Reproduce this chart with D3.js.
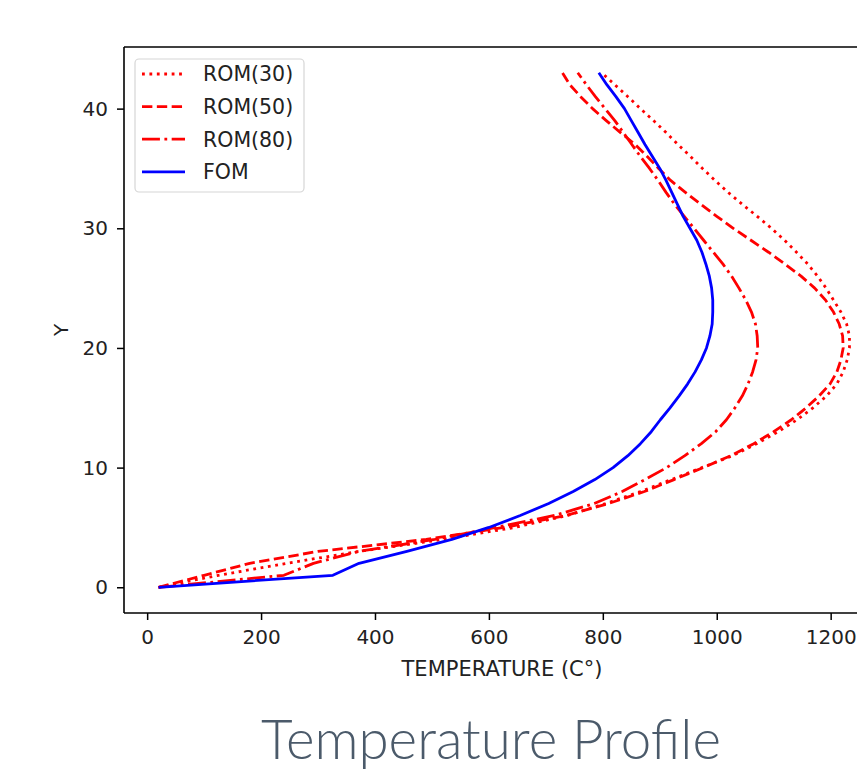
<!DOCTYPE html>
<html>
<head>
<meta charset="utf-8">
<script src="https://cdn.jsdelivr.net/npm/d3@7"></script>
<style>
  html, body { margin: 0; padding: 0; background: #ffffff; }
  svg { display: block; }
</style>
</head>
<body>
<svg id="chart" width="857" height="773"></svg>
<script>
// ---------------- DATA ----------------
const yLevels = [0,1,2,3,4,5,6,7,8,9,10,11,12,13,14,15,16,17,18,19,20,21,22,23,24,25,26,27,28,29,30,31,32,33,34,35,36,37,38,39,40,41,42,43];

const rom30 = [20,125,245,372,520,645,738,805,866,920,974,1028,1070,1108,1141,1169,1193,1211,1222,1229,1233,1233,1228,1218,1205,1192,1177,1160,1140,1119,1096,1071,1045,1020,997,975,954,932,911,889,866,844,821,798];
const rom50 = [20,100,180,300,490,627,735,810,873,925,976,1025,1065,1100,1131,1157,1180,1199,1211,1218,1222,1221,1215,1205,1191,1172,1148,1120,1091,1060,1029,1000,972,945,919,898,878,857,831,806,782,761,742,729];
const rom80 = [20,240,292,372,505,612,715,785,834,874,912,944,973,998,1017,1032,1045,1055,1063,1069,1072,1071,1068,1061,1051,1039,1026,1011,994,977,960,943,926,911,897,882,866,851,836,821,804,787,771,756];
const fom   = [20,326,372,456,535,600,655,705,748,786,818,844,866,885,901,918,934,949,962,973,982,988,992,993,993,991,987,981,974,965,953,941,931,921,911,900,887,874,862,850,838,823,807,793];

const seriesNames = ["ROM(30)", "ROM(50)", "ROM(80)", "FOM"];
const seriesValues = [rom30, rom50, rom80, fom];
const xTicks = [0, 200, 400, 600, 800, 1000, 1200];
const yTicks = [0, 10, 20, 30, 40];
const xLabel = "TEMPERATURE (C°)";
const yLabel = "Y";
const title = "Temperature Profile";

// ---------------- STYLES ----------------
const lw = 2.8;
const styles = [
  { color: "#ff0000", dash: [lw * 1, lw * 1.65].join(",") },
  { color: "#ff0000", dash: [lw * 3.7, lw * 1.6].join(",") },
  { color: "#ff0000", dash: [lw * 6.4, lw * 1.6, lw * 1, lw * 1.6].join(",") },
  { color: "#0000ff", dash: null }
];

// ---------------- LAYOUT ----------------
const axL = 124, axR = 884, axT = 47, axB = 613;
const fontAxis = "'DejaVu Sans', sans-serif";

const allX = seriesValues.flat();
const xMin = d3.min(allX), xMax = d3.max(allX);
const xPad = 0.05 * (xMax - xMin);
const yMin = d3.min(yLevels), yMax = d3.max(yLevels);
const yPad = 0.05 * (yMax - yMin);

const x = d3.scaleLinear().domain([xMin - xPad, xMax + xPad]).range([axL, axR]);
const y = d3.scaleLinear().domain([yMin - yPad, yMax + yPad]).range([axB, axT]);

const svg = d3.select("#chart");
svg.append("rect").attr("width", 857).attr("height", 773).attr("fill", "#ffffff");

svg.append("clipPath").attr("id", "clip")
  .append("rect").attr("x", axL).attr("y", axT).attr("width", axR - axL).attr("height", axB - axT);

const line = d3.line()
  .x(d => x(d[0]))
  .y(d => y(d[1]))
  .curve(d3.curveLinear);

const gLines = svg.append("g").attr("clip-path", "url(#clip)");
seriesValues.forEach((vals, i) => {
  const pts = vals.map((v, j) => [v, yLevels[j]]);
  gLines.append("path")
    .datum(pts)
    .attr("d", line)
    .attr("fill", "none")
    .attr("stroke", styles[i].color)
    .attr("stroke-width", lw)
    .attr("stroke-dasharray", styles[i].dash)
    .attr("stroke-linejoin", "round");
});

// axes
const xAxis = d3.axisBottom(x).tickValues(xTicks).tickSize(7).tickPadding(10).tickFormat(d3.format("d"));
const yAxis = d3.axisLeft(y).tickValues(yTicks).tickSize(7).tickPadding(9).tickFormat(d3.format("d"));

const gx = svg.append("g").attr("transform", `translate(0,${axB})`).call(xAxis);
const gy = svg.append("g").attr("transform", `translate(${axL},0)`).call(yAxis);
[gx, gy].forEach(g => {
  g.select(".domain").remove();
  g.selectAll(".tick line").attr("stroke", "#000").attr("stroke-width", 1.5);
  g.selectAll(".tick text").attr("fill", "#222").style("font-family", fontAxis).style("font-size", "20px");
});

// spines
const spine = svg.append("g").attr("fill", "none").attr("stroke", "#000").attr("stroke-width", 1.6);
spine.append("line").attr("x1", axL).attr("x2", axR).attr("y1", axT).attr("y2", axT);
spine.append("line").attr("x1", axL).attr("x2", axR).attr("y1", axB).attr("y2", axB);
spine.append("line").attr("x1", axL).attr("x2", axL).attr("y1", axT).attr("y2", axB);
spine.append("line").attr("x1", axR).attr("x2", axR).attr("y1", axT).attr("y2", axB);

// axis labels
svg.append("text")
  .attr("x", 502)
  .attr("y", 676)
  .attr("text-anchor", "middle")
  .style("font-family", fontAxis).style("font-size", "21px")
  .attr("fill", "#222")
  .text(xLabel);

svg.append("text")
  .attr("transform", `translate(68,${(axT + axB) / 2}) rotate(-90)`)
  .attr("text-anchor", "middle")
  .style("font-family", fontAxis).style("font-size", "20px")
  .attr("fill", "#222")
  .text(yLabel);

// legend
const lg = svg.append("g");
lg.append("rect")
  .attr("x", 135).attr("y", 59).attr("width", 169).attr("height", 133)
  .attr("rx", 4).attr("ry", 4)
  .attr("fill", "#ffffff").attr("fill-opacity", 0.8)
  .attr("stroke", "#d6d6d6").attr("stroke-width", 1.2);
const legY0 = 74, legDy = 32.6;
seriesNames.forEach((name, i) => {
  const yy = legY0 + i * legDy;
  lg.append("line")
    .attr("x1", 142).attr("x2", 185).attr("y1", yy).attr("y2", yy)
    .attr("stroke", styles[i].color)
    .attr("stroke-width", lw)
    .attr("stroke-dasharray", styles[i].dash);
  lg.append("text")
    .attr("x", 203).attr("y", yy).attr("dy", "0.36em")
    .style("font-family", fontAxis).style("font-size", "20.5px")
    .attr("fill", "#222")
    .text(name);
});

// title
const t = svg.append("text")
  .attr("x", 491).attr("y", 759)
  .attr("text-anchor", "middle")
  .style("font-family", "Lato, 'Open Sans', sans-serif")
  .style("font-weight", 300)
  .style("font-size", "50px")
  .attr("fill", "#4b5a6a")
  .text(title);
const w = t.node().getComputedTextLength();
if (w > 0) t.style("font-size", (50 * 460 / w).toFixed(2) + "px");
</script>
</body>
</html>
